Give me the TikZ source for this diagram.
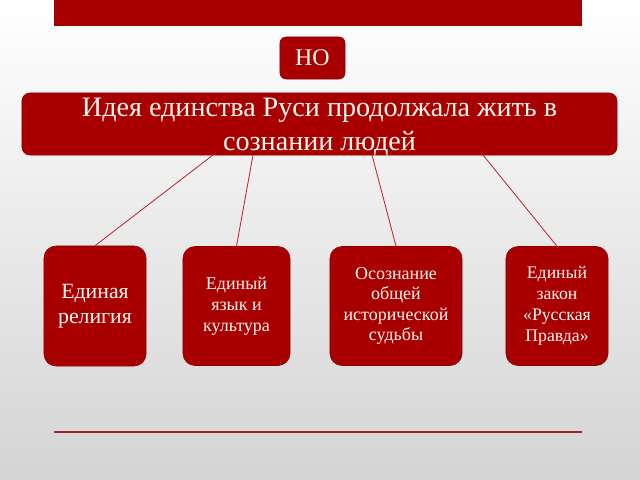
\documentclass[tikz,border=0pt]{standalone}
\usepackage{fontspec}
\setmainfont{Liberation Serif}
\usepackage{tikz}
\usetikzlibrary{calc}

\definecolor{boxred}{RGB}{168,0,0}
\definecolor{linered}{RGB}{190,40,50}
\definecolor{paper}{RGB}{212,212,212}
\definecolor{ivory}{RGB}{255,246,238}

\tikzset{
  redbox/.style={draw=boxred!85!black,fill=boxred,text=ivory,align=center,
    rounded corners=0.3cm,inner sep=2pt},
  link/.style={draw=linered,line width=0.6pt}
}

\begin{document}
\begin{tikzpicture}[x=0.025cm,y=-0.025cm]
            \shade [top color=white,bottom color=paper] (0,0) rectangle (640,480);
            \useasboundingbox (0,0) rectangle (640,480);
            \fill [boxred] (54,0) rectangle (582,26);
            \node [redbox,rounded corners=0.15cm,minimum width=1.625cm,minimum height=1.05cm,
              font=\fontsize{17}{17}\selectfont] (no) at (312.5,58) {НО};
            \node [redbox,rounded corners=0.2cm,minimum width=14.875cm,minimum height=1.55cm]
              (idea) at (319.5,124) {};
            \node [text=ivory,align=center,font=\fontsize{20}{23.5}\selectfont]
              (ideatext) at (319.5,127) {Идея единства Руси продолжала жить в\\сознании людей};
            \node [redbox,minimum width=2.55cm,minimum height=3cm,
              font=\fontsize{15.5}{18}\selectfont] (rel) at (95,306) {Единая\\религия};
            \node [redbox,minimum width=2.675cm,minimum height=2.975cm,
              font=\fontsize{12.8}{15}\selectfont] (lang) at (236.5,306) {Единый\\язык и\\культура};
            \node [redbox,minimum width=3.3cm,minimum height=2.975cm,
              font=\fontsize{12.8}{14.5}\selectfont] (hist) at (396,306)
              {Осознание\\общей\\исторической\\судьбы};
            \node [redbox,minimum width=2.55cm,minimum height=2.975cm,
              font=\fontsize{12.6}{15}\selectfont] (law) at (557,306)
              {Единый\\закон\\«Русская\\Правда»};
            % ends on the bottom edge of the big box
            \coordinate (s1) at (213,155);
            \coordinate (s2) at (253,155);
            \coordinate (s3) at (372,155);
            \coordinate (s4) at (483,155);
            \draw [link] (s1) -- (rel.north);
            \draw [link] (s2) -- (lang.north);
            \draw [link] (s3) -- (hist.north);
            \draw [link] (s4) -- (law.north);
            \coordinate (b1) at (54,432);
            \coordinate (b2) at (582,432);
            \draw [draw=linered!85!black,line width=1.5pt] (b1) -- (b2);
        \end{tikzpicture}
\end{document}
